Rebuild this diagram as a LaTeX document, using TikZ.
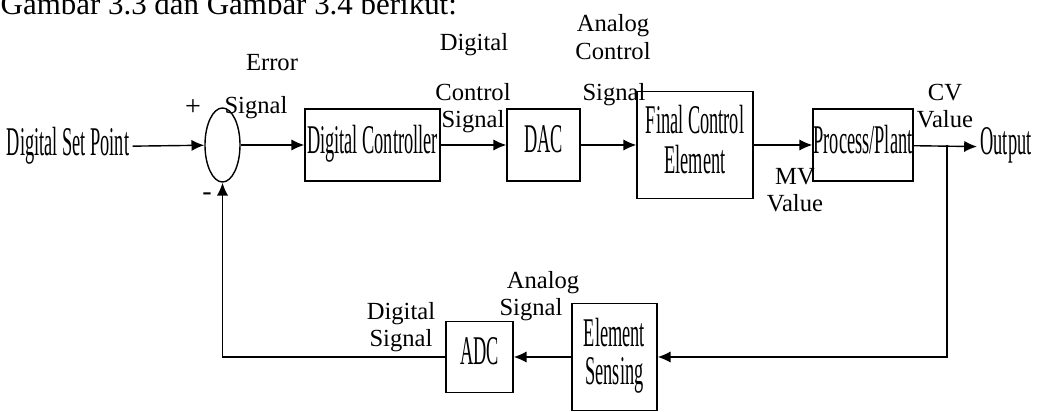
\documentclass[tikz,border=0pt]{standalone}
\usepackage{fontspec}
\setmainfont{Liberation Serif}
\usepackage{graphicx}
\usetikzlibrary{arrows.meta, positioning, shapes.geometric}

\newcommand{\blocktext}[1]{\scalebox{0.45}[1]{\fontsize{29}{27}\selectfont\begin{tabular}{@{}c@{}}#1\end{tabular}}}

\begin{document}
\begin{tikzpicture}[x=0.025cm, y=-0.025cm, >={Latex[length=3.2mm,width=2.8mm]}, line width=1pt,
  blk/.style={draw, inner sep=0pt, line width=1pt},
  lbl/.style={font=\fontsize{17.5}{19.5}\selectfont, align=center, inner sep=0pt}]
\useasboundingbox (0,0) rectangle (1053,412);
\node[anchor=base west, inner sep=0pt, font=\fontsize{22}{24}\selectfont] (title) at (0,15) {Gambar 3.3 dan Gambar 3.4 berikut:};

% forward path
\node[inner sep=2pt] (sp) at (68,147) {\blocktext{Digital Set Point}};
\node[blk, ellipse, minimum width=0.875cm, minimum height=1.85cm] (sum) at (222.5,145) {};
\node[blk, minimum width=3.375cm, minimum height=1.8cm] (ctrl) at (372.5,145) {\blocktext{Digital Controller}};
\node[blk, minimum width=1.825cm, minimum height=1.8cm] (dac) at (543.5,145) {\blocktext{DAC}};
\node[blk, minimum width=2.9cm, minimum height=2.675cm] (fce) at (695,145) {\blocktext{Final Control\\Element}};
\node[blk, minimum width=2.5cm, minimum height=1.8cm] (plant) at (863,145) {\blocktext{Process/Plant}};
\node[inner sep=2pt] (out) at (1006,147) {\blocktext{Output}};
\coordinate (br) at (947,145);

% feedback path
\node[blk, minimum width=2.125cm, minimum height=2.675cm] (sens) at (614.5,357) {\blocktext{Element\\Sensing}};
\node[blk, minimum width=1.675cm, minimum height=1.775cm] (adc) at (479.5,357) {\blocktext{ADC}};

\draw[->] (sp) -- (sum);
\draw[->] (sum) -- (ctrl);
\draw[->] (ctrl) -- (dac);
\draw[->] (dac) -- (fce);
\draw[->] (fce) -- (plant);
\draw[->] (plant) -- (out);
\draw[->] (br) |- (sens);
\draw[->] (sens) -- (adc);
\draw[->] (adc) -| (sum);

% labels
\node[lbl, font=\fontsize{20}{22}\selectfont] (plus) at (193,108) {+};
\node[lbl, font=\fontsize{20}{22}\selectfont] (minus) at (207,197) {-};
\node[lbl] (err1) at (272,63) {Error};
\node[lbl] (err2) at (256,108) {Signal};
\node[lbl] (dcs1) at (474,45) {Digital};
\node[lbl] (dcs2) at (473,108) {Control\\Signal};
\node[lbl] (acs1) at (613,37) {Analog\\Control};
\node[lbl] (acs2) at (614,95) {Signal};
\node[lbl] (mv) at (795,190) {MV\\Value};
\node[lbl] (cv) at (945,106) {CV\\Value};
\node[lbl] (ds) at (401,327) {Digital\\Signal};
\node[lbl] (as1) at (543,283) {Analog};
\node[lbl] (as2) at (531,310) {Signal};
\end{tikzpicture}
\end{document}
